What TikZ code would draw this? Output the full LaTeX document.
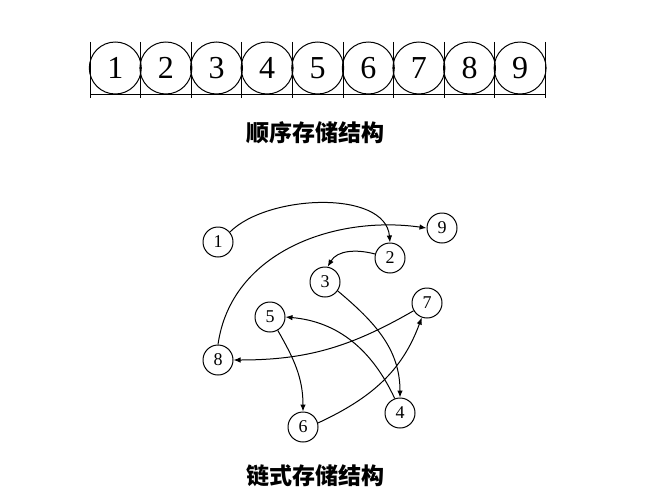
\documentclass[tikz,border=0pt]{standalone}
\usepackage{fontspec}
\setmainfont{Liberation Serif}
\newfontfamily\cjk{Noto Sans CJK SC}
\usetikzlibrary{arrows.meta}
\begin{document}
\begin{tikzpicture}[x=1pt,y=-1pt,
  cell/.style={circle,draw,line width=1pt,minimum size=52pt,inner sep=0pt,font=\fontsize{32}{32}\selectfont},
  gnode/.style={circle,draw,line width=1pt,minimum size=30pt,inner sep=0pt,font=\fontsize{18}{18}\selectfont},
  link/.style={line width=1pt,-{Latex[length=7pt,width=5.5pt]}},
  title/.style={font=\cjk\bfseries\fontsize{23}{23}\selectfont}]
\useasboundingbox (0,0) rectangle (668,503);
% sequential storage
\foreach \i in {0,...,9} {
  \draw[line width=1pt] ({90+50.6*\i},42) -- ({90+50.6*\i},98);
}
\draw[line width=1pt] (90,94.5) -- (546,94.5);
\foreach \i in {1,...,9} {
  \node[cell] (a\i) at ({90+50.6*(\i-0.5)},68) {\i};
}
\node[title] (t1) at (315,133) {顺序存储结构};
% linked storage
\node[gnode] (n1) at (218,242) {1};
\node[gnode] (n2) at (390,258) {2};
\node[gnode] (n3) at (325,282) {3};
\node[gnode] (n4) at (400,413) {4};
\node[gnode] (n5) at (270,317) {5};
\node[gnode] (n6) at (303,427) {6};
\node[gnode] (n7) at (427,303) {7};
\node[gnode] (n8) at (218,360) {8};
\node[gnode] (n9) at (442,228) {9};
\draw[link] (n1.40) to[out=45,in=95,looseness=0.85] (n2.north);
\draw[link] (n2.165) to[out=165,in=60] (n3.80);
\draw[link] (n3.-35) to[out=-40,in=90] (n4.north);
\draw[link] (n4.110) to[out=115,in=-5] (n5.east);
\draw[link] (n5.-60) to[out=-60,in=90] (n6.north);
\draw[link] (n6.15) to[out=25,in=-110] (n7.-110);
\draw[link] (n7.-150) to[out=-150,in=0] (n8.east);
\draw[link] (n8.north) to[out=82,in=172] (n9.west);
\node[title] (t2) at (315,476) {链式存储结构};
\end{tikzpicture}
\end{document}
